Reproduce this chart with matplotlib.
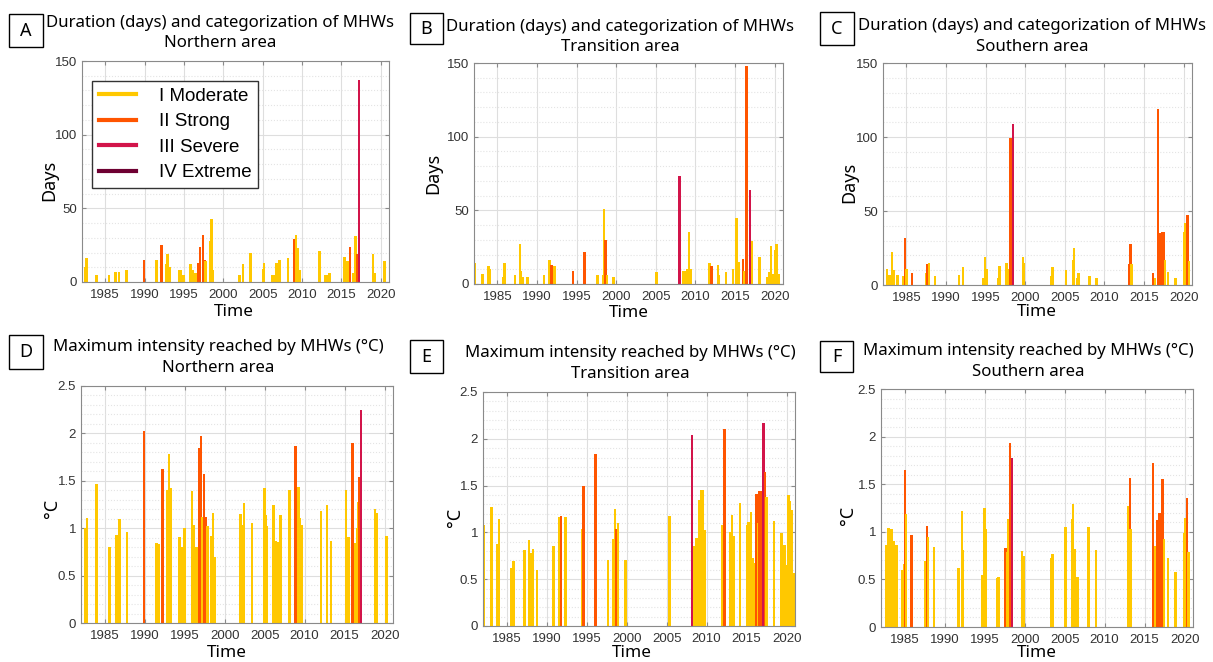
import matplotlib
matplotlib.use("Agg")
from matplotlib import pyplot as plt
from matplotlib.lines import Line2D
from matplotlib.patches import Rectangle
import matplotlib.ticker as mticker

# categories: 1 Moderate, 2 Strong, 3 Severe, 4 Extreme
CAT_LABELS = ["I Moderate", "II Strong", "III Severe", "IV Extreme"]
CAT_COLORS = {1: "#FFC800", 2: "#FF5500", 3: "#D2144A", 4: "#6E0032"}

# ---- A: duration, northern area
A_year = [1982.44, 1982.6, 1983.87, 1985.48, 1986.33, 1986.75, 1987.72, 1989.92, 1991.49, 1991.6,
          1992.17, 1992.76, 1992.88, 1993.22, 1994.37, 1994.58, 1994.92, 1995.85, 1996.15, 1996.48,
          1996.82, 1997.03, 1997.41, 1997.62, 1997.75, 1998.3, 1998.51, 1998.72, 2002.06, 2002.49,
          2003.46, 2005.03, 2005.15, 2006.21, 2006.42, 2006.67, 2006.84, 2007.13, 2008.19, 2008.96,
          2009.25, 2009.46, 2009.72, 2012.22, 2012.98, 2013.19, 2013.49, 2015.39, 2015.6, 2015.82,
          2016.07, 2016.5, 2016.79, 2016.96, 2017.26, 2018.99, 2019.2, 2020.47]
A_days = [10, 16, 5, 5, 7, 7, 8, 15, 15, 7, 25, 12, 19, 10, 8, 8, 5, 12, 8, 6,
          13, 24, 32, 15, 14, 28, 43, 8, 5, 12, 20, 9, 13, 5, 5, 13, 13, 15, 16, 29,
          32, 23, 8, 21, 5, 5, 6, 17, 14, 14, 24, 6, 31, 19, 137, 19, 6, 14]
A_cat = [1, 1, 1, 1, 1, 1, 1, 2, 1, 1, 2, 1, 1, 1, 1, 1, 1, 1, 1, 1,
         2, 2, 2, 2, 1, 1, 1, 1, 1, 1, 1, 1, 1, 1, 1, 1, 1, 1, 1, 2,
         1, 1, 1, 1, 1, 1, 1, 1, 1, 1, 2, 1, 1, 2, 3, 1, 1, 1]

# ---- B: duration, transition area
B_year = [1982.2, 1983.12, 1983.91, 1984.08, 1985.71, 1985.88, 1987.22, 1987.85, 1988.01, 1988.26,
          1988.77, 1990.9, 1991.61, 1991.82, 1992.24, 1994.54, 1996.01, 1997.64, 1998.31, 1998.44,
          1998.65, 1998.86, 1999.69, 2005.09, 2008.02, 2008.48, 2008.77, 2008.98, 2009.19, 2009.4,
          2011.79, 2012.0, 2012.84, 2012.96, 2013.88, 2014.76, 2015.18, 2015.47, 2015.98, 2016.18,
          2016.44, 2016.86, 2017.15, 2018.07, 2019.03, 2019.32, 2019.53, 2019.78, 2020.08, 2020.2,
          2020.5]
B_days = [14, 7, 12, 10, 5, 14, 6, 27, 9, 5, 5, 6, 16, 13, 12, 9, 22, 6, 6, 51,
          30, 6, 5, 8, 73, 9, 9, 10, 35, 10, 14, 12, 13, 6, 8, 10, 45, 15, 17, 9,
          148, 64, 29, 18, 5, 8, 26, 7, 23, 27, 7]
B_cat = [1, 1, 1, 1, 1, 1, 1, 1, 1, 1, 1, 1, 1, 2, 1, 2, 2, 1, 1, 1,
         2, 1, 1, 1, 3, 1, 1, 1, 1, 1, 1, 2, 1, 1, 1, 1, 1, 1, 2, 1,
         2, 3, 1, 1, 1, 1, 1, 1, 1, 1, 1]

# ---- C: duration, southern area
C_year = [1982.0, 1982.58, 1982.84, 1983.18, 1983.35, 1983.86, 1984.58, 1984.83, 1985.04, 1985.72,
          1987.5, 1987.67, 1987.84, 1988.6, 1991.65, 1992.12, 1994.66, 1994.92, 1995.13, 1996.57,
          1996.74, 1997.58, 1997.67, 1997.92, 1998.14, 1998.47, 1999.7, 1999.87, 2003.35, 2003.43,
          2005.13, 2006.06, 2006.14, 2006.53, 2006.74, 2008.09, 2008.98, 2013.09, 2013.3, 2013.43,
          2016.14, 2016.4, 2016.74, 2016.91, 2017.12, 2017.33, 2017.5, 2017.63, 2018.05, 2018.94,
          2020.08, 2020.25, 2020.5, 2020.68]
C_days = [7, 11, 7, 22, 10, 7, 6, 32, 11, 8, 8, 14, 15, 6, 7, 12, 5, 19, 11, 5,
          13, 8, 15, 11, 99, 109, 19, 15, 6, 12, 10, 17, 25, 5, 8, 6, 5, 14, 28, 14,
          8, 5, 119, 35, 35, 36, 36, 17, 9, 5, 36, 42, 47, 16]
C_cat = [1, 1, 1, 1, 1, 1, 1, 2, 1, 2, 1, 2, 1, 1, 1, 1, 1, 1, 1, 1,
         1, 2, 1, 1, 2, 3, 1, 1, 1, 1, 1, 1, 1, 1, 1, 1, 1, 2, 2, 1,
         2, 1, 2, 2, 2, 2, 2, 1, 1, 1, 1, 1, 2, 1]

# ---- D: max intensity, northern area
D_year = [1982.63, 1982.8, 1984.0, 1985.58, 1986.49, 1986.62, 1986.83, 1987.78, 1989.94, 1991.52,
          1991.72, 1992.26, 1992.88, 1993.05, 1993.26, 1994.34, 1994.63, 1994.96, 1995.91, 1996.16,
          1996.49, 1996.83, 1997.03, 1997.24, 1997.45, 1997.66, 1997.86, 1998.28, 1998.57, 1998.78,
          2001.97, 2002.22, 2002.43, 2003.42, 2005.0, 2005.12, 2005.29, 2006.12, 2006.45, 2006.66,
          2006.99, 2008.11, 2008.86, 2009.23, 2009.44, 2009.61, 2012.05, 2012.8, 2013.3, 2015.17,
          2015.5, 2016.0, 2016.33, 2016.54, 2016.7, 2016.83, 2017.07, 2018.82, 2018.98, 2020.27]
D_int = [1.0, 1.11, 1.47, 0.80, 0.93, 0.93, 1.10, 0.96, 2.03, 0.84,
         0.83, 1.62, 1.40, 1.78, 1.42, 0.91, 0.80, 1.00, 1.39, 1.03,
         0.80, 1.85, 1.97, 1.12, 1.57, 1.12, 1.02, 0.92, 1.16, 0.70,
         1.15, 1.03, 1.27, 1.06, 1.42, 1.14, 1.02, 1.25, 0.86, 0.85,
         1.14, 1.40, 1.87, 1.43, 1.11, 1.03, 1.18, 1.25, 0.86, 1.40,
         0.91, 1.90, 0.84, 1.00, 1.28, 1.54, 2.25, 1.20, 1.16, 0.92]
D_cat = [1, 1, 1, 1, 1, 1, 1, 1, 2, 1, 1, 2, 1, 1, 1, 1, 1, 1, 1, 1,
         1, 2, 2, 1, 2, 2, 1, 1, 1, 1, 1, 1, 1, 1, 1, 1, 1, 1, 1, 1,
         1, 1, 2, 1, 1, 1, 1, 1, 1, 1, 1, 2, 1, 1, 1, 2, 3, 1, 1, 1]

# ---- E: max intensity, transition area
E_year = [1982.14, 1983.11, 1983.87, 1984.03, 1985.63, 1985.84, 1987.23, 1987.82, 1988.07, 1988.28,
          1988.82, 1990.88, 1991.6, 1991.81, 1992.35, 1994.45, 1994.62, 1996.13, 1997.69, 1998.32,
          1998.53, 1998.74, 1998.95, 1999.83, 2005.38, 2008.19, 2008.4, 2008.66, 2008.82, 2009.08,
          2009.33, 2009.54, 2009.71, 2012.02, 2012.23, 2012.94, 2013.15, 2013.36, 2014.2, 2015.04,
          2015.25, 2015.55, 2015.71, 2015.92, 2016.22, 2016.43, 2016.64, 2016.81, 2017.1, 2017.31,
          2017.52, 2018.4, 2019.37, 2019.58, 2019.79, 2020.0, 2020.21, 2020.42, 2020.63, 2020.84]
E_int = [1.08, 1.27, 0.88, 1.14, 0.62, 0.69, 0.81, 0.92, 0.78, 0.82,
         0.60, 0.85, 1.16, 1.18, 1.16, 1.04, 1.50, 1.84, 0.71, 0.93,
         1.25, 1.04, 1.10, 0.70, 1.17, 2.04, 0.85, 0.94, 0.94, 1.35,
         1.45, 1.45, 1.03, 1.08, 2.10, 1.00, 1.19, 0.96, 1.31, 1.08,
         1.11, 1.22, 0.73, 0.67, 1.41, 1.10, 1.44, 1.44, 2.17, 1.65,
         1.38, 1.12, 0.99, 0.87, 0.87, 0.65, 1.40, 1.34, 1.24, 0.57]
E_cat = [1, 1, 1, 1, 1, 1, 1, 1, 1, 1, 1, 1, 1, 2, 1, 1, 2, 2, 1, 1,
         1, 2, 1, 1, 1, 3, 1, 1, 1, 1, 1, 1, 1, 1, 2, 1, 1, 1, 1, 1,
         1, 1, 1, 1, 2, 1, 2, 2, 3, 2, 1, 1, 1, 1, 1, 1, 1, 1, 1, 1]

# ---- F: max intensity, southern area
F_year = [1982.06, 1982.76, 1983.0, 1983.2, 1983.4, 1983.6, 1984.0, 1984.7, 1984.9, 1985.05,
          1985.2, 1985.87, 1987.6, 1987.8, 1987.95, 1988.7, 1991.75, 1992.15, 1992.3, 1994.7,
          1995.0, 1995.2, 1996.6, 1996.75, 1997.6, 1997.8, 1998.0, 1998.15, 1998.45, 1999.65,
          1999.86, 2003.3, 2003.5, 2005.1, 2005.95, 2006.07, 2006.23, 2006.5, 2006.7, 2008.0,
          2008.9, 2012.94, 2013.15, 2013.27, 2016.04, 2016.3, 2016.58, 2016.83, 2017.24, 2017.4,
          2017.9, 2018.86, 2019.9, 2020.06, 2020.3, 2020.47]
F_int = [1.10, 0.86, 1.04, 1.03, 1.03, 0.90, 0.86, 0.60, 0.66, 1.65,
         1.19, 0.97, 0.69, 1.06, 0.95, 0.84, 0.62, 1.22, 0.81, 0.55,
         1.25, 1.03, 0.51, 0.53, 0.83, 0.79, 1.13, 1.93, 1.77, 0.80,
         0.75, 0.73, 0.77, 1.05, 1.13, 1.29, 0.82, 0.52, 0.52, 1.05,
         0.81, 1.27, 1.57, 1.03, 1.72, 0.85, 1.12, 1.20, 1.55, 0.92,
         0.72, 0.58, 0.99, 1.15, 1.35, 0.79]
F_cat = [1, 1, 1, 1, 1, 1, 1, 1, 1, 2, 1, 2, 1, 2, 1, 1, 1, 1, 1, 1,
         1, 1, 1, 1, 2, 1, 1, 2, 3, 1, 1, 1, 1, 1, 1, 1, 1, 1, 1, 1,
         1, 1, 2, 1, 2, 1, 2, 2, 2, 1, 1, 1, 1, 1, 2, 1]

TITLE_DUR = "Duration (days) and categorization of MHWs"
TITLE_INT = "Maximum intensity reached by MHWs (°C)"

W, H = 1213, 662
TITLE_FONT = "Noto Sans"
TICK_FONT = "Liberation Sans"

# letter, title, area, data, axes box (px: left, top, right, bottom), letter box,
# title centre/lines, ylabel pos, xlabel pos
panels = [
    ("A", TITLE_DUR, "Northern area", A_year, A_days, A_cat, (82, 61, 389, 282),
     (9, 14, 43, 47), (220, 23, 43), (49, 180), (234, 312)),
    ("B", TITLE_DUR, "Transition area", B_year, B_days, B_cat, (474, 63, 783, 284),
     (410, 13, 443, 44), (620, 27, 47), (433, 173), (629, 313)),
    ("C", TITLE_DUR, "Southern area", C_year, C_days, C_cat, (883, 63, 1192, 285),
     (820, 12, 854, 45), (1032, 26, 47), (849, 182), (1037, 312)),
    ("D", TITLE_INT, "Northern area", D_year, D_int, D_cat, (81, 386, 393, 623),
     (9, 335, 43, 369), (218, 347, 368), (52, 508), (227, 653)),
    ("E", TITLE_INT, "Transition area", E_year, E_int, E_cat, (483, 392, 795, 626),
     (410, 340, 443, 373), (630, 353, 374), (455, 517), (632, 653)),
    ("F", TITLE_INT, "Southern area", F_year, F_int, F_cat, (881, 389, 1193, 627),
     (820, 341, 853, 372), (1028, 351, 372), (848, 515), (1037, 653)),
]

fig = plt.figure(figsize=(W / 100, H / 100), dpi=100)


def fx(x):
    return x / W


def fy(y):
    return 1 - y / H


for letter, title, area, yrs, vals, cats, box, lbox, tpos, ylpos, xlpos in panels:
    l, t, r, b = box
    ax = fig.add_axes([fx(l), fy(b), (r - l) / W, (b - t) / H])
    ax.bar(yrs, vals, width=0.32, color=[CAT_COLORS[c] for c in cats],
           edgecolor="none", zorder=2)
    ax.set_xlim(1982.05, 2021.05)
    ax.set_xticks(range(1985, 2021, 5))
    if title == TITLE_DUR:
        ax.set_ylim(0, 150)
        ax.set_yticks([0, 50, 100, 150])
        ax.yaxis.set_minor_locator(mticker.MultipleLocator(10))
        ylabel = "Days"
    else:
        ax.set_ylim(0, 2.5)
        ax.set_yticks([0, 0.5, 1, 1.5, 2, 2.5])
        ax.yaxis.set_minor_locator(mticker.MultipleLocator(0.1))
        ylabel = "°C"
    ax.yaxis.set_major_formatter(mticker.FormatStrFormatter("%g"))
    ax.set_axisbelow(True)
    ax.grid(which="major", color="#dedede", lw=0.8)
    ax.grid(which="minor", axis="y", color="#e4e4e4", ls=":", lw=0.8)
    for s in ax.spines.values():
        s.set_color("#8a8a8a")
        s.set_linewidth(0.8)
    ax.tick_params(which="both", direction="in", top=True, right=True,
                   color="#8a8a8a", labelcolor="#333333", labelsize=9.5)
    ax.tick_params(which="major", length=3)
    ax.tick_params(which="minor", length=0)
    ax.tick_params(axis="x", pad=5)
    for lab in ax.get_xticklabels() + ax.get_yticklabels():
        lab.set_fontfamily(TICK_FONT)

    # letter box
    bl, bt, br, bb = lbox
    fig.patches.append(Rectangle((fx(bl), fy(bb)), (br - bl) / W, (bb - bt) / H,
                                 transform=fig.transFigure, fill=False,
                                 edgecolor="black", lw=1.0))
    fig.text(fx((bl + br) / 2), fy((bt + bb) / 2), letter, ha="center", va="center",
             fontsize=13, family=TITLE_FONT)

    # title lines
    cx, y1, y2 = tpos
    fig.text(fx(cx), fy(y1), title, ha="center", va="center", fontsize=12.1,
             family=TITLE_FONT)
    fig.text(fx(cx), fy(y2), area, ha="center", va="center", fontsize=12.1,
             family=TITLE_FONT)

    fig.text(fx(ylpos[0]), fy(ylpos[1]), ylabel, rotation=90, ha="center",
             va="center", fontsize=13, family=TITLE_FONT)
    fig.text(fx(xlpos[0]), fy(xlpos[1]), "Time", ha="center", va="center",
             fontsize=12.3, family=TITLE_FONT)

    if letter == "A":
        handles = [Line2D([], [], color=CAT_COLORS[k], lw=3) for k in (1, 2, 3, 4)]
        ax.legend(handles, CAT_LABELS, loc="upper left",
                  bbox_to_anchor=(0.033, 0.909), borderaxespad=0,
                  prop={"family": TICK_FONT, "size": 13.5},
                  handlelength=2.0, handletextpad=1.2, labelspacing=0.45,
                  borderpad=0.35, fancybox=False, framealpha=1,
                  edgecolor="#333333")

fig.savefig("out.png", dpi=100)
